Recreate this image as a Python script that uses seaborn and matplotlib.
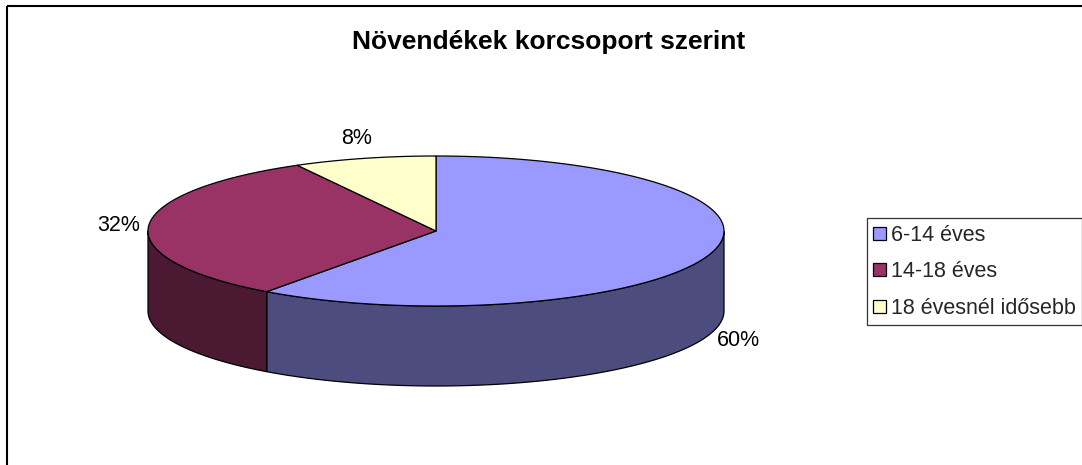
import numpy as np
import matplotlib
matplotlib.use("Agg")
import matplotlib.pyplot as plt
from matplotlib.patches import Polygon, Rectangle
import seaborn as sns

# ---- data ----
categories = ["6-14 éves", "14-18 éves", "18 évesnél idősebb"]
values = [60, 32, 8]
labels = ["60%", "32%", "8%"]
title = "Növendékek korcsoport szerint"
top_colors = ["#9999FF", "#993366", "#FFFFCC"]
side_colors = ["#4C4C7F", "#4C1933", "#7F7F66"]

sns.set_theme(style="white")
plt.rcParams["font.family"] = ["Liberation Sans", "DejaVu Sans"]

fig = plt.figure(figsize=(10.82, 4.65), dpi=100)
ax = fig.add_axes([0, 0, 1, 1])
ax.set_xlim(0, 1082)
ax.set_ylim(465, 0)
ax.axis("off")

# pie geometry (pixel space)
cx, cy, a, b, depth = 436, 231, 288, 75, 80
lw = 0.9

def pt(theta_deg, dz=0.0):
    t = np.radians(theta_deg)
    return cx + a * np.cos(t), cy - b * np.sin(t) + dz

fracs = np.array(values, dtype=float) / np.sum(values)
starts = 90 - 360 * np.concatenate([[0], np.cumsum(fracs)[:-1]])
ends = starts - 360 * fracs

# side walls (front half only)
for s, e, col in zip(starts, ends, side_colors):
    th = np.linspace(s, e, 400)
    mask = np.sin(np.radians(th)) < 0
    if not mask.any():
        continue
    thf = th[mask]
    xs, ys = pt(thf)
    xb, yb = pt(thf[::-1], depth)
    poly = np.column_stack([np.concatenate([xs, xb]), np.concatenate([ys, yb])])
    ax.add_patch(Polygon(poly, closed=True, facecolor=col, edgecolor="black",
                         linewidth=lw, joinstyle="round"))

# top faces
handles = []
for s, e, col in zip(starts, ends, top_colors):
    th = np.linspace(s, e, 400)
    xs, ys = pt(th)
    poly = np.column_stack([np.concatenate([[cx], xs]), np.concatenate([[cy], ys])])
    p = Polygon(poly, closed=True, facecolor=col, edgecolor="black",
                linewidth=lw, joinstyle="round")
    ax.add_patch(p)
    handles.append(p)

# labels
for s, e, lab in zip(starts, ends, labels):
    m = (s + e) / 2
    t = np.radians(m)
    x, y = pt(m, depth if np.sin(t) < 0 else 0)
    x += 30 * np.cos(t)
    y -= 20 * np.sin(t)
    ax.text(x, y, lab, ha="center", va="center", fontsize=15.5, color="black")

ax.text(549, 49, title, ha="center", va="baseline", fontsize=19,
        fontweight="bold", color="black")

# outer chart border
ax.add_patch(Rectangle((7, 6), 1200, 600, fill=False, edgecolor="black",
                       linewidth=1.5))

leg = ax.legend(handles, categories, loc="upper left",
                bbox_to_anchor=(867 / 1082, 1 - 218.5 / 465),
                frameon=True, fancybox=False, edgecolor="black",
                fontsize=15.5, handlelength=0.56, handleheight=0.56,
                handletextpad=0.25, labelspacing=0.72, borderpad=0.3,
                borderaxespad=0)
leg.get_frame().set_linewidth(0.9)

fig.savefig("out.png", dpi=100, facecolor="white")
